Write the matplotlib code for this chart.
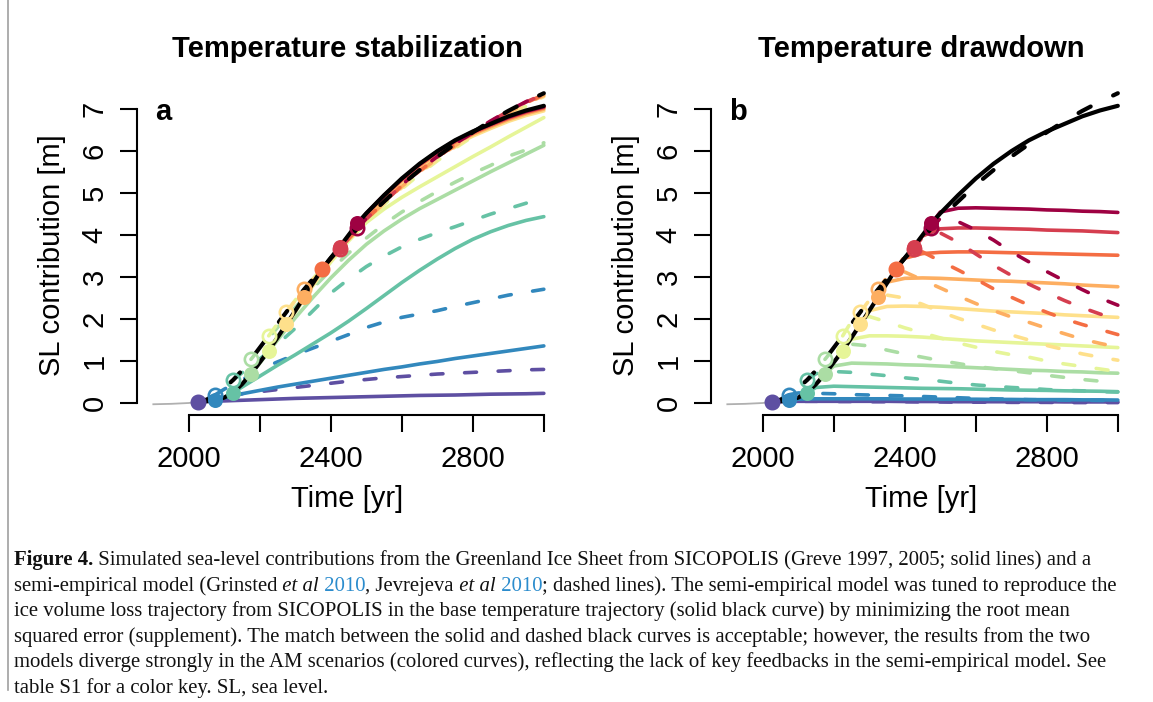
import matplotlib
matplotlib.use("Agg")
import matplotlib.pyplot as plt
from matplotlib.lines import Line2D

plt.rcParams['font.family'] = ['Liberation Sans', 'DejaVu Sans']

# scenario colours, coolest (earliest start) first
COLORS = ['#5E4FA2', '#3288BD', '#66C2A5', '#ABDDA4', '#E6F598',
          '#FEE08B', '#FDAE61', '#F46D43', '#D53E4F', '#9E0142']
START_YEARS = [2025, 2075, 2125, 2175, 2225, 2275, 2325, 2375, 2425, 2475]
# every scenario series = value at its start year, then values at GRID years after it
GRID = [2050, 2100, 2150, 2200, 2250, 2300, 2350, 2400, 2450, 2500,
        2550, 2600, 2650, 2700, 2750, 2800, 2850, 2900, 2950, 3000]

HIST_YEARS = [1900, 1950, 2000, 2025]
HIST_SL = [-0.03, -0.02, 0.0, 0.03]

BASE_YEARS = [2025, 2050, 2075, 2100, 2125, 2150, 2175, 2200, 2225, 2250,
              2275, 2300, 2325, 2350, 2375, 2400, 2425, 2450, 2475, 2500,
              2550, 2600, 2650, 2700, 2750, 2800, 2850, 2900, 2950, 3000]
BASE_SICOPOLIS = [0.03, 0.04, 0.06, 0.13, 0.25, 0.45, 0.69, 0.97, 1.25, 1.56,
                  1.88, 2.2, 2.53, 2.86, 3.19, 3.46, 3.72, 4.0, 4.28, 4.52,
                  4.95, 5.35, 5.7, 6.0, 6.26, 6.47, 6.65, 6.83, 6.97, 7.08]
BASE_SEMI = [0.03, 0.08, 0.2, 0.36, 0.55, 0.78, 1.04, 1.32, 1.6, 1.89,
             2.17, 2.45, 2.71, 2.96, 3.2, 3.45, 3.68, 3.92, 4.16, 4.4,
             4.8, 5.2, 5.55, 5.87, 6.17, 6.45, 6.72, 6.96, 7.18, 7.38]

# panel a: temperature stabilization
STAB_SICOPOLIS = [
    [0.03, 0.04, 0.05, 0.065, 0.08, 0.095, 0.11, 0.12, 0.13, 0.14, 0.15,
     0.16, 0.17, 0.18, 0.185, 0.19, 0.2, 0.21, 0.215, 0.22, 0.23],
    [0.06, 0.12, 0.22, 0.3, 0.38, 0.45, 0.52, 0.59, 0.66, 0.73, 0.8, 0.86,
     0.93, 0.99, 1.06, 1.12, 1.18, 1.24, 1.3, 1.36],
    [0.25, 0.38, 0.64, 0.9, 1.15, 1.41, 1.67, 1.95, 2.25, 2.56, 2.87, 3.16,
     3.43, 3.68, 3.9, 4.08, 4.23, 4.35, 4.44],
    [0.69, 0.95, 1.5, 2.03, 2.52, 2.98, 3.4, 3.78, 4.1, 4.38, 4.63, 4.85,
     5.07, 5.29, 5.51, 5.72, 5.93, 6.14],
    [1.25, 1.55, 2.17, 2.8, 3.36, 3.86, 4.3, 4.62, 4.9, 5.15, 5.39, 5.63,
     5.87, 6.1, 6.34, 6.57, 6.8],
    [1.88, 2.19, 2.83, 3.42, 3.95, 4.45, 4.88, 5.27, 5.62, 5.9, 6.15, 6.36,
     6.54, 6.71, 6.85, 6.96],
    [2.53, 2.85, 3.44, 3.97, 4.48, 4.91, 5.3, 5.65, 5.94, 6.19, 6.4, 6.58,
     6.75, 6.89, 7.0],
    [3.19, 3.45, 3.98, 4.5, 4.93, 5.32, 5.67, 5.97, 6.22, 6.43, 6.61, 6.78,
     6.92, 7.03],
    [3.72, 3.99, 4.51, 4.94, 5.33, 5.68, 5.98, 6.24, 6.45, 6.63, 6.8, 6.94,
     7.05],
    [4.28, 4.52, 4.95, 5.34, 5.69, 5.99, 6.25, 6.46, 6.64, 6.81, 6.95, 7.06],
]
STAB_SEMI = [
    [0.03, 0.07, 0.15, 0.22, 0.27, 0.32, 0.37, 0.42, 0.47, 0.52, 0.56, 0.6,
     0.63, 0.66, 0.69, 0.71, 0.73, 0.75, 0.77, 0.79, 0.8],
    [0.2, 0.33, 0.55, 0.8, 0.98, 1.15, 1.31, 1.47, 1.63, 1.8, 1.93, 2.04,
     2.12, 2.2, 2.3, 2.39, 2.48, 2.57, 2.64, 2.71],
    [0.55, 0.72, 1.05, 1.4, 1.78, 2.2, 2.62, 2.95, 3.25, 3.5, 3.72, 3.9,
     4.06, 4.2, 4.35, 4.5, 4.63, 4.76, 4.9],
    [1.04, 1.3, 1.8, 2.28, 2.74, 3.17, 3.57, 3.93, 4.26, 4.55, 4.8, 5.04,
     5.26, 5.47, 5.66, 5.88, 6.03, 6.2],
    [1.6, 1.89, 2.45, 2.96, 3.44, 3.9, 4.33, 4.73, 5.1, 5.45, 5.77, 6.07,
     6.35, 6.62, 6.86, 7.07, 7.27],
    [2.17, 2.44, 2.94, 3.42, 3.88, 4.35, 4.74, 5.13, 5.48, 5.8, 6.1, 6.38,
     6.65, 6.89, 7.1, 7.3],
    [2.71, 2.95, 3.43, 3.9, 4.37, 4.77, 5.16, 5.51, 5.83, 6.13, 6.41, 6.68,
     6.92, 7.13, 7.33],
    [3.2, 3.44, 3.91, 4.38, 4.78, 5.18, 5.53, 5.85, 6.15, 6.43, 6.7, 6.94,
     7.15, 7.35],
    [3.68, 3.92, 4.39, 4.79, 5.19, 5.54, 5.86, 6.16, 6.44, 6.71, 6.95, 7.17,
     7.36],
    [4.16, 4.4, 4.8, 5.2, 5.55, 5.87, 6.17, 6.45, 6.72, 6.96, 7.18, 7.37],
]

# panel b: temperature drawdown
DRAW_SICOPOLIS = [
    [0.03, 0.035, 0.04, 0.04, 0.04, 0.04, 0.04, 0.04, 0.035, 0.035, 0.035,
     0.03, 0.03, 0.03, 0.03, 0.03, 0.03, 0.025, 0.025, 0.025, 0.025],
    [0.06, 0.09, 0.1, 0.1, 0.1, 0.1, 0.1, 0.095, 0.095, 0.09, 0.09, 0.09,
     0.085, 0.085, 0.08, 0.08, 0.08, 0.075, 0.075, 0.07],
    [0.25, 0.37, 0.4, 0.39, 0.38, 0.37, 0.36, 0.35, 0.345, 0.34, 0.33, 0.32,
     0.31, 0.305, 0.3, 0.29, 0.285, 0.28, 0.27],
    [0.69, 0.88, 0.95, 0.94, 0.93, 0.91, 0.9, 0.88, 0.86, 0.84, 0.82, 0.8,
     0.78, 0.77, 0.75, 0.74, 0.72, 0.71],
    [1.25, 1.52, 1.6, 1.6, 1.59, 1.57, 1.54, 1.51, 1.48, 1.46, 1.44, 1.42,
     1.4, 1.38, 1.36, 1.34, 1.32],
    [1.88, 2.2, 2.3, 2.31, 2.3, 2.28, 2.25, 2.22, 2.19, 2.17, 2.15, 2.13,
     2.1, 2.08, 2.06, 2.04],
    [2.53, 2.88, 2.97, 2.98, 2.97, 2.95, 2.93, 2.91, 2.9, 2.88, 2.86, 2.84,
     2.81, 2.79, 2.77],
    [3.19, 3.45, 3.56, 3.59, 3.6, 3.6, 3.59, 3.58, 3.57, 3.56, 3.55, 3.54,
     3.53, 3.52],
    [3.72, 3.98, 4.15, 4.17, 4.17, 4.16, 4.15, 4.14, 4.12, 4.11, 4.1, 4.08,
     4.06],
    [4.28, 4.55, 4.64, 4.65, 4.64, 4.63, 4.62, 4.6, 4.59, 4.57, 4.56, 4.54],
]
DRAW_SEMI = [
    [0.03, 0.04, 0.04, 0.04, 0.035, 0.035, 0.03, 0.03, 0.03, 0.025, 0.025,
     0.02, 0.02, 0.02, 0.015, 0.015, 0.015, 0.01, 0.01, 0.01, 0.01],
    [0.2, 0.24, 0.23, 0.22, 0.2, 0.19, 0.18, 0.17, 0.155, 0.14, 0.125, 0.11,
     0.1, 0.09, 0.08, 0.075, 0.07, 0.065, 0.06, 0.055],
    [0.55, 0.7, 0.75, 0.73, 0.69, 0.65, 0.6, 0.56, 0.52, 0.47, 0.43, 0.4,
     0.37, 0.35, 0.32, 0.3, 0.29, 0.27, 0.26],
    [1.04, 1.3, 1.4, 1.36, 1.26, 1.17, 1.09, 1.01, 0.94, 0.87, 0.82, 0.77,
     0.72, 0.66, 0.61, 0.56, 0.52, 0.48],
    [1.6, 1.95, 2.06, 1.93, 1.79, 1.67, 1.55, 1.43, 1.33, 1.23, 1.15, 1.09,
     1.0, 0.93, 0.87, 0.81, 0.75],
    [2.17, 2.45, 2.57, 2.5, 2.35, 2.17, 2.02, 1.88, 1.74, 1.62, 1.5, 1.37,
     1.27, 1.17, 1.09, 1.02],
    [2.71, 3.0, 3.12, 2.93, 2.74, 2.55, 2.37, 2.2, 2.05, 1.92, 1.78, 1.65,
     1.52, 1.42, 1.33],
    [3.2, 3.5, 3.6, 3.38, 3.17, 2.95, 2.72, 2.52, 2.33, 2.16, 2.0, 1.87,
     1.75, 1.63],
    [3.68, 3.95, 4.05, 3.83, 3.55, 3.28, 3.04, 2.83, 2.63, 2.44, 2.27, 2.12,
     1.99],
    [4.16, 4.4, 4.32, 4.12, 3.88, 3.6, 3.36, 3.13, 2.91, 2.7, 2.5, 2.33],
]

X_TICKS = [2000, 2200, 2400, 2600, 2800, 3000]
X_TICK_LABELS = ['2000', '', '2400', '', '2800', '']
Y_TICKS = [0, 1, 2, 3, 4, 5, 6, 7]

TITLES = ['Temperature stabilization', 'Temperature drawdown']
LETTERS = ['a', 'b']

CAPTION = [
    [("Figure 4.", "b"), (" Simulated sea-level contributions from the Greenland Ice Sheet from "
                          "SICOPOLIS (Greve 1997, 2005; solid lines) and a", "n")],
    [("semi-empirical model (Grinsted", "n"), (" et al", "i"), (" 2010", "l"),
     (", Jevrejeva", "n"), (" et al", "i"), (" 2010", "l"),
     ("; dashed lines). The semi-empirical model was tuned to reproduce the", "n")],
    [("ice volume loss trajectory from SICOPOLIS in the base temperature trajectory "
      "(solid black curve) by minimizing the root mean", "n")],
    [("squared error (supplement). The match between the solid and dashed black curves "
      "is acceptable; however, the results from the two", "n")],
    [("models diverge strongly in the AM scenarios (colored curves), reflecting the lack "
      "of key feedbacks in the semi-empirical model. See", "n")],
    [("table S1 for a color key. SL, sea level.", "n")],
]
# right edge of the full caption lines in the reference, pixels (None: short line)
CAPTION_RIGHT = [1128, 1118, None, 1115, 1120, None]

W, H = 1153, 702
fig = plt.figure(figsize=(W / 100, H / 100), dpi=100)
fig.patch.set_facecolor('white')

DASH = (3.3, 6.0)


def add_axes_px(left, top, right, bottom):
    return fig.add_axes([left / W, 1 - bottom / H, (right - left) / W, (bottom - top) / H])


def draw_panel(ax, solid, semi):
    ax.plot(HIST_YEARS, HIST_SL, color='#b0b0b0', lw=1.3, zorder=1)
    for i, start in enumerate(START_YEARS):
        yrs = [start] + [g for g in GRID if g > start]
        ax.plot(yrs, solid[i], color=COLORS[i], lw=2.6,
                solid_capstyle='round', solid_joinstyle='round', zorder=2)
        ax.plot(yrs, semi[i], color=COLORS[i], lw=2.6, dashes=DASH,
                dash_capstyle='round', zorder=2)
    ax.plot(BASE_YEARS, BASE_SICOPOLIS, color='black', lw=3.0,
            solid_capstyle='round', zorder=3)
    ax.plot(BASE_YEARS, BASE_SEMI, color='black', lw=3.0, dashes=DASH,
            dash_capstyle='round', zorder=3)
    for i, start in enumerate(START_YEARS):
        ax.plot([start], [semi[i][0]], 'o', ms=9.6, mfc='none', mec=COLORS[i],
                mew=1.9, zorder=4)
    for i, start in enumerate(START_YEARS):
        ax.plot([start], [solid[i][0]], 'o', ms=10.8, mfc=COLORS[i], mec='none',
                zorder=5)

    ax.set_xlim(1854, 3044)
    ax.set_ylim(-0.286, 7.6)
    for s in ['top', 'right']:
        ax.spines[s].set_visible(False)
    ax.spines['left'].set_bounds(0, 7)
    ax.spines['bottom'].set_bounds(2000, 3000)
    for s in ['left', 'bottom']:
        ax.spines[s].set_linewidth(1.5)
    ax.set_xticks(X_TICKS)
    ax.set_xticklabels(X_TICK_LABELS)
    ax.set_yticks(Y_TICKS)
    ax.set_yticklabels([str(v) for v in Y_TICKS], rotation=90, va='center')
    ax.tick_params(axis='both', direction='out', length=12.5, width=1.5,
                   labelsize=21)
    ax.tick_params(axis='x', pad=9)
    ax.tick_params(axis='y', pad=8)
    ax.patch.set_alpha(0)


panels = [
    (137, STAB_SICOPOLIS, STAB_SEMI),
    (711, DRAW_SICOPOLIS, DRAW_SEMI),
]
for k, (left, solid, semi) in enumerate(panels):
    width = (3044 - 1854) * 0.355
    ax = add_axes_px(left, 84, left + width, 415)
    draw_panel(ax, solid, semi)
    fig.text((left + 210) / W, 1 - 57 / H, TITLES[k], fontsize=21, fontweight='bold',
             ha='center', va='baseline')
    fig.text((left + 18) / W, 1 - 120 / H, LETTERS[k], fontsize=21,
             fontweight='bold', ha='left', va='baseline')
    fig.text((left - 85) / W, 1 - 255 / H, 'SL contribution [m]', fontsize=21,
             rotation=90, ha='center', va='center')
    fig.text((left + 210) / W, 1 - 507 / H, 'Time [yr]', fontsize=21,
             ha='center', va='baseline')

# thin frame line on the left of the page
fig.add_artist(Line2D([8 / W, 8 / W], [1.0, 1 - 690 / H], color='#a0a0a0', lw=1.2))

# caption, laid out piece by piece
LINK_BLUE = '#2b8ccd'
renderer = fig.canvas.get_renderer()


def place_line(pieces, x0, y, size):
    x = x0
    made = []
    for txt, style in pieces:
        kw = dict(family=['Liberation Serif', 'DejaVu Serif'], fontsize=size,
                  ha='left', va='baseline', color='#111111')
        if style == 'b':
            kw['fontweight'] = 'bold'
        if style == 'i':
            kw['fontstyle'] = 'italic'
        if style == 'l':
            kw['color'] = LINK_BLUE
        t = fig.text(x / W, 1 - y / H, txt, **kw)
        x += t.get_window_extent(renderer).width
        made.append(t)
    return x - x0, made


# one font size for the whole caption: the largest that keeps every full
# line inside its reference right edge
sizes = []
for line, right in zip(CAPTION, CAPTION_RIGHT):
    if right is None:
        continue
    w0, tmp = place_line(line, 14, 565, 13)
    for t in tmp:
        t.remove()
    sizes.append(13 * (right - 14) / w0)
cap_size = min(sizes)

for j, line in enumerate(CAPTION):
    place_line(line, 14, 565 + j * 25.6, cap_size)

fig.savefig('out.png', dpi=100, facecolor='white')
